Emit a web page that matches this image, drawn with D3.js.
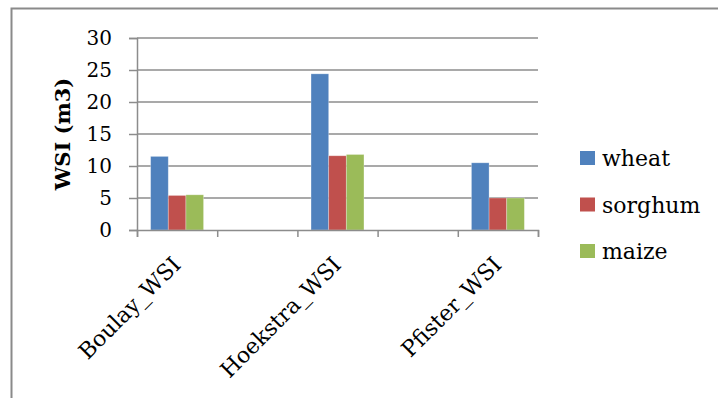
<!DOCTYPE html>
<html><head><meta charset="utf-8">
<script src="https://cdn.jsdelivr.net/npm/d3@7"></script>
<style>html,body{margin:0;padding:0;background:#fff;}svg{display:block;}</style>
</head><body>
<svg id="chart" width="718" height="398"></svg>
<script>
const categories = ["Boulay_WSI", "", "Hoekstra_WSI", "", "Pfister_WSI"];
const seriesNames = ["wheat", "sorghum", "maize"];
const wheat   = [11.5, null, 24.4, null, 10.5];
const sorghum = [5.4,  null, 11.6, null, 5.0];
const maize   = [5.5,  null, 11.8, null, 5.0];
const yTicks = [0, 5, 10, 15, 20, 25, 30];
const yTitle = "WSI (m3)";

(function () {
const colors = ["#4F81BD", "#C0504D", "#9BBB59"];
const values = [wheat, sorghum, maize];
const font = "'DejaVu Serif', serif";

const svg = d3.select("#chart");
const pLeft = 137, pRight = 538, pTop = 38, pBottom = 230;

// outer border
svg.append("path").attr("d", "M11.5,400 V8.5 H720")
  .attr("fill", "none").attr("stroke", "#8a8a8a").attr("stroke-width", 2);

const y = d3.scaleLinear().domain([0, 30]).range([pBottom, pTop]);
const x = d3.scaleBand().domain(d3.range(categories.length)).range([pLeft, pRight])
  .paddingInner(0.34).paddingOuter(0.17);
const xs = d3.scaleBand().domain(d3.range(seriesNames.length)).range([0, x.bandwidth()]);
const xb = d3.scaleLinear().domain([0, categories.length]).range([pLeft, pRight]);

// gridlines
svg.append("g").selectAll("line").data(yTicks.filter(t => t > 0)).join("line")
  .attr("x1", pLeft).attr("x2", pRight).attr("y1", d => y(d)).attr("y2", d => y(d))
  .attr("stroke", "#8c8c8c").attr("stroke-width", 1.5);

// y axis
const yAxis = svg.append("g").attr("transform", `translate(${pLeft},0)`)
  .call(d3.axisLeft(y).tickValues(yTicks).tickSize(8).tickPadding(17).tickFormat(d3.format("d")));
yAxis.select(".domain").attr("stroke", "#8c8c8c").attr("stroke-width", 1.5);
yAxis.selectAll(".tick line").attr("stroke", "#8c8c8c").attr("stroke-width", 1.5);
yAxis.selectAll(".tick text").attr("font-family", font).attr("font-size", 20).attr("fill", "#000");

// bars
values.forEach((vals, s) => {
  svg.append("g").selectAll("rect").data(vals.map((v, i) => ({v, i})).filter(d => d.v != null)).join("rect")
    .attr("x", d => x(d.i) + xs(s)).attr("width", xs.bandwidth())
    .attr("y", d => y(d.v)).attr("height", d => y(0) - y(d.v))
    .attr("fill", colors[s]).attr("stroke", "rgba(255,255,255,0.35)").attr("stroke-width", 0.8);
});

// x axis
const xAxis = svg.append("g").attr("transform", `translate(0,${pBottom})`)
  .call(d3.axisBottom(xb).tickValues(d3.range(categories.length + 1)).tickSize(7).tickFormat(""));
xAxis.select(".domain").attr("stroke", "#8c8c8c").attr("stroke-width", 1.5);
xAxis.selectAll(".tick line").attr("stroke", "#8c8c8c").attr("stroke-width", 1.5);

// category labels
svg.append("g").selectAll("text").data(categories.map((c, i) => ({c, i})).filter(d => d.c)).join("text")
  .attr("transform", d => `translate(${x(d.i) + x.bandwidth() / 2 + 5},${pBottom + 36}) rotate(-45)`)
  .attr("text-anchor", "end").attr("font-family", font).attr("font-size", 22).attr("fill", "#000")
  .text(d => d.c);

// y title
svg.append("text").attr("transform", `translate(70,${(pTop + pBottom) / 2}) rotate(-90)`)
  .attr("text-anchor", "middle").attr("font-family", font).attr("font-weight", "bold")
  .attr("font-size", 21).attr("fill", "#000").text(yTitle);

// legend
const lg = svg.append("g").selectAll("g").data(seriesNames).join("g")
  .attr("transform", (d, i) => `translate(580,${151 + i * 46.5})`);
lg.append("rect").attr("width", 15).attr("height", 14).attr("fill", (d, i) => colors[i]);
lg.append("text").attr("x", 22).attr("y", 15).attr("font-family", font).attr("font-size", 22)
  .attr("fill", "#000").text(d => d);
})();
</script>
</body></html>
